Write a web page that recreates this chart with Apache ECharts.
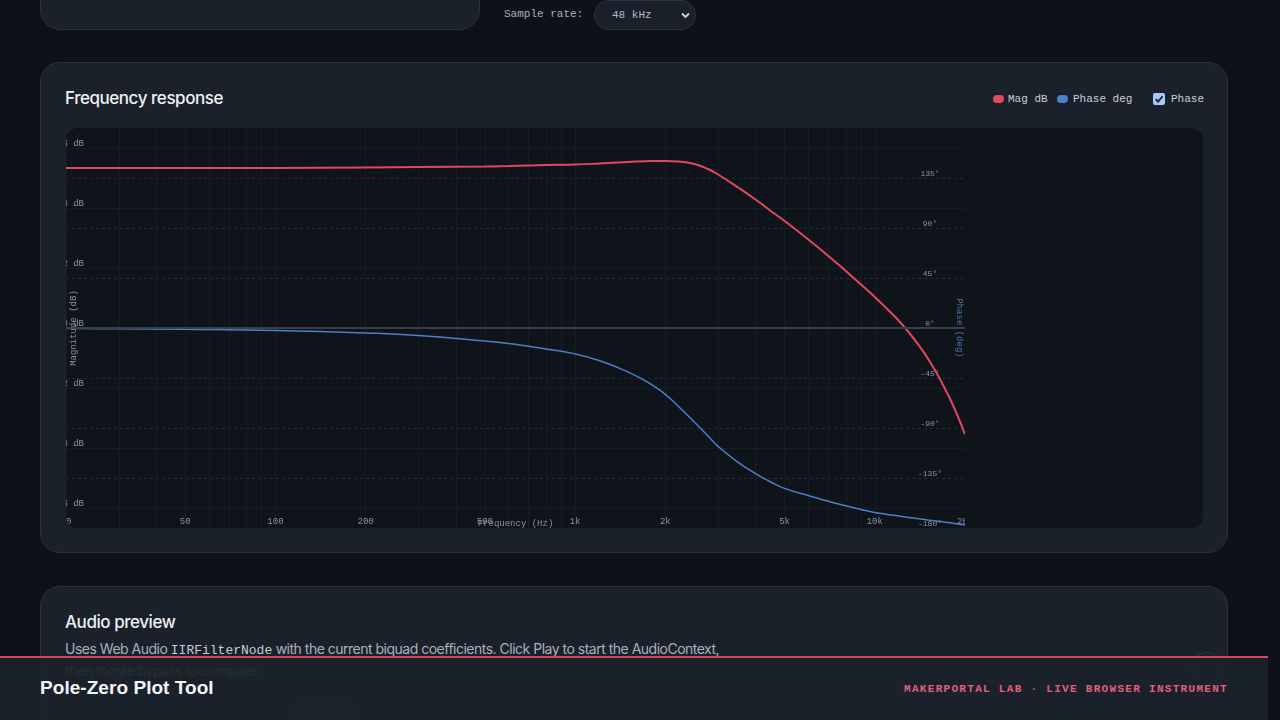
<!DOCTYPE html>
<html>
<head>
<meta charset="utf-8">
<script src="https://cdn.jsdelivr.net/npm/echarts@6/dist/echarts.min.js"></script>
<style>
  html, body { margin: 0; padding: 0; }
  body {
    width: 1280px; height: 720px; overflow: hidden; position: relative;
    background: #0e1218; font-family: Inter, "Noto Sans", sans-serif; color: #e6e9ee;
  }
  .mono { font-family: "Courier New", "Liberation Mono", monospace; }
  .card {
    position: absolute; background: #1b212b; border: 1px solid #2a313c;
    border-radius: 20px; box-sizing: border-box;
  }
  .title { position: absolute; font-size: 17px; font-weight: 500; color: #eef1f5; letter-spacing: -0.45px; }
  #plotBox {
    position: absolute; left: 66px; top: 128px; width: 1137px; height: 400px;
    background: #0f131a; border-radius: 12px; overflow: hidden;
  }
  #chart { position: absolute; left: 0; top: 0; width: 899px; height: 400px; }
  .legend { position: absolute; top: 92px; font-size: 11px; color: #c9ced6; height: 14px; line-height: 14px; }
  .sw { position: absolute; width: 11px; height: 8px; border-radius: 4px; top: 3px; }
  #footer {
    position: absolute; left: 0; top: 656px; width: 1268px; height: 64px;
    background: rgba(27, 33, 43, 0.93); border-top: 2px solid #d9465c; box-sizing: border-box;
  }
</style>
</head>
<body>
<!-- top strip -->
<div class="card" style="left:40px; top:-40px; width:440px; height:70px;"></div>
<div class="mono" style="position:absolute; left:504px; top:8px; font-size:11px; color:#a7afba;">Sample rate:</div>
<div style="position:absolute; left:594px; top:0; width:102px; height:30px; box-sizing:border-box;
            border:1px solid #2c333e; border-radius:15px; background:#1a2029;">
  <span class="mono" style="position:absolute; left:17px; top:8px; font-size:11px; color:#b3bac5;">48 kHz</span>
  <svg style="position:absolute; left:86px; top:11px;" width="9" height="7" viewBox="0 0 9 7">
    <path d="M1 1.5 L4.5 5 L8 1.5" stroke="#d0d5dc" stroke-width="1.8" fill="none"/>
  </svg>
</div>

<!-- frequency response card -->
<div class="card" style="left:40px; top:62px; width:1188px; height:491px;"></div>
<div class="title" style="left:65px; top:88px;">Frequency response</div>
<div class="legend mono" style="left:993px;"><span class="sw" style="left:0; background:#e0485e;"></span><span style="position:absolute; left:15px;">Mag&nbsp;dB</span></div>
<div class="legend mono" style="left:1057px;"><span class="sw" style="left:0; background:#4a80c8;"></span><span style="position:absolute; left:16px; white-space:nowrap;">Phase&nbsp;deg</span></div>
<div style="position:absolute; left:1153px; top:93px; width:12px; height:12px; border-radius:2px; background:#a8c7fa;">
  <svg width="12" height="12" viewBox="0 0 12 12" style="position:absolute; left:0; top:0;">
    <path d="M2.6 6.2 L5 8.6 L9.6 3.4" stroke="#1b212b" stroke-width="1.8" fill="none"/>
  </svg>
</div>
<div class="legend mono" style="left:1171px;">Phase</div>
<div id="plotBox"><div id="chart"></div></div>

<!-- audio preview card -->
<div class="card" style="left:40px; top:586px; width:1188px; height:220px;"></div>
<div class="title" style="left:65px; top:612px;">Audio preview</div>
<div style="position:absolute; left:65px; top:640px; font-size:14px; color:#a9b1bc; letter-spacing:-0.5px; white-space:nowrap;">
  Uses Web Audio <span class="mono" style="font-size:13px; letter-spacing:0; color:#c6ccd4;">IIRFilterNode</span> with the current biquad coefficients. Click Play to start the AudioContext,
</div>
<div style="position:absolute; left:65px; top:662px; font-size:14px; color:#a9b1bc; letter-spacing:-0.5px; white-space:nowrap;">then toggle bypass to compare.</div>
<div style="position:absolute; left:289px; top:700px; width:68px; height:36px; border-radius:18px; background:#2a313b;"></div>
<div style="position:absolute; left:1191px; top:652px; width:32px; height:32px; border-radius:16px; border:1px solid #2d343e; box-sizing:border-box;"></div>

<div id="footer">
  <div style="position:absolute; left:40px; top:19px; font-family:'Liberation Sans', Arial, sans-serif; font-weight:bold; font-size:19px; color:#f3f5f8; letter-spacing:0.05px;">Pole-Zero Plot Tool</div>
  <div class="mono" style="position:absolute; right:40px; top:25px; font-size:11px; font-weight:bold; letter-spacing:1.3px; color:#e0607a;">MAKERPORTAL LAB · LIVE BROWSER INSTRUMENT</div>
</div>

<script>
// frequency points (Hz)
var freqs = [20, 30, 50, 100, 200, 300, 500, 600, 700, 800, 1000, 1200, 1500, 1800, 2000, 2200, 2500, 2800,
  3000, 3500, 4000, 4500, 5000, 6000, 7000, 8000, 9000, 10000, 11000, 12000, 13000, 14000, 15000,
  16000, 17000, 18000, 19000, 20000];
// magnitude (dB)
var magDb = [32.0, 32.0, 32.0, 32.0, 32.1, 32.2, 32.3, 32.4, 32.5, 32.6, 32.7, 32.9, 33.2, 33.4, 33.4, 33.3, 32.8, 31.7,
  30.7, 28.1, 25.7, 23.4, 21.4, 17.7, 14.4, 11.4, 8.7, 6.2, 3.8, 1.5, -0.9, -3.4, -6.0,
  -8.8, -11.7, -14.7, -17.9, -21.3];
// phase (deg)
var phaseDeg = [-0.4, -0.7, -1.1, -2.2, -4.5, -6.8, -11.7, -14.0, -16.5, -18.8, -23.3, -29.2, -39.5, -50.9, -59.8, -70.0, -84.6, -98.3,
  -106.5, -121.0, -131.0, -138.6, -144.3, -150.8, -156.0, -160.0, -163.3, -166.0, -167.8, -169.2, -170.5, -171.6, -172.7,
  -173.7, -174.7, -175.6, -176.5, -177.3];

var freqLabels = [20, 50, 100, 200, 500, 1000, 2000, 5000, 10000, 20000];
var freqGrid = [20, 30, 40, 50, 60, 70, 80, 90, 100, 200, 300, 400, 500, 600, 700, 800, 900,
  1000, 2000, 3000, 4000, 5000, 6000, 7000, 8000, 9000, 10000, 20000];
var magTicks = [-36, -24, -12, 0, 12, 24, 36];
var phaseTicks = [-180, -135, -90, -45, 0, 45, 90, 135];

var magData = freqs.map(function (f, i) { return [f, magDb[i]]; });
var phaseData = freqs.map(function (f, i) { return [f, phaseDeg[i]]; });

var chart = echarts.init(document.getElementById('chart'), null, { renderer: 'canvas' });
var labelFont = '"Courier New", "Liberation Mono", monospace';

var option = {
  animation: false,
  grid: { left: 0, right: 0, top: 0, bottom: 0, containLabel: false, outerBoundsMode: 'none' },
  xAxis: {
    type: 'log',
    logBase: 10,
    min: 20,
    max: 20000,
    name: 'Frequency (Hz)',
    nameLocation: 'middle',
    nameGap: -9,
    nameMoveOverlap: false,
    nameTextStyle: { color: '#8a929e', fontSize: 9, fontFamily: labelFont },
    axisLine: { show: false },
    axisTick: { show: false, customValues: freqGrid },
    axisLabel: {
      inside: true,
      margin: 2,
      customValues: freqLabels,
      hideOverlap: false,
      color: '#8a929e',
      fontSize: 9,
      fontFamily: labelFont,
      formatter: function (v) { return v >= 1000 ? (v / 1000) + 'k' : String(v); }
    },
    splitLine: { show: true, lineStyle: { color: '#161c25', width: 1 } }
  },
  yAxis: [{
    type: 'value',
    min: -40,
    max: 40,
    position: 'left',
    offset: -20,
    name: 'Magnitude (dB)',
    nameLocation: 'middle',
    nameRotate: 90,
    nameGap: 8,
    nameMoveOverlap: false,
    nameTextStyle: { color: '#8a929e', fontSize: 9, fontFamily: labelFont },
    axisLine: { show: false },
    axisTick: { show: false, customValues: magTicks },
    axisLabel: {
      margin: 2,
      customValues: magTicks,
      verticalAlign: 'bottom',
      color: '#8a929e',
      fontSize: 9,
      fontFamily: labelFont,
      formatter: '{value} dB'
    },
    splitLine: { show: true, lineStyle: { color: '#171d26', width: 1 } }
  }, {
    type: 'value',
    min: -180,
    max: 180,
    position: 'right',
    name: 'Phase (deg)',
    nameLocation: 'middle',
    nameRotate: -90,
    nameGap: -10,
    nameMoveOverlap: false,
    nameTextStyle: { color: '#4a72a6', fontSize: 9, fontFamily: labelFont },
    axisLine: { show: false },
    axisTick: { show: false, customValues: phaseTicks },
    axisLabel: {
      inside: true,
      margin: 35,
      align: 'center',
      verticalAlign: 'bottom',
      customValues: phaseTicks,
      color: '#8a929e',
      fontSize: 8,
      fontFamily: labelFont,
      formatter: '{value}°'
    },
    splitLine: { show: true, lineStyle: { color: '#222a35', width: 1, type: [3, 3] } }
  }],
  series: [{
    name: 'Mag dB',
    type: 'line',
    yAxisIndex: 0,
    data: magData,
    showSymbol: false,
    smooth: 0.5,
    lineStyle: { color: '#e0485e', width: 2 },
    itemStyle: { color: '#e0485e' },
    z: 3
  }, {
    name: 'Phase deg',
    type: 'line',
    yAxisIndex: 1,
    data: phaseData,
    showSymbol: false,
    smooth: 0.5,
    lineStyle: { color: '#4a80c8', width: 1.5 },
    itemStyle: { color: '#4a80c8' },
    markLine: {
      silent: true,
      symbol: 'none',
      label: { show: false },
      lineStyle: { color: '#3a414b', width: 2, type: 'solid' },
      data: [{ yAxis: 0 }]
    },
    z: 2
  }]
};
chart.setOption(option);
</script>
</body>
</html>
